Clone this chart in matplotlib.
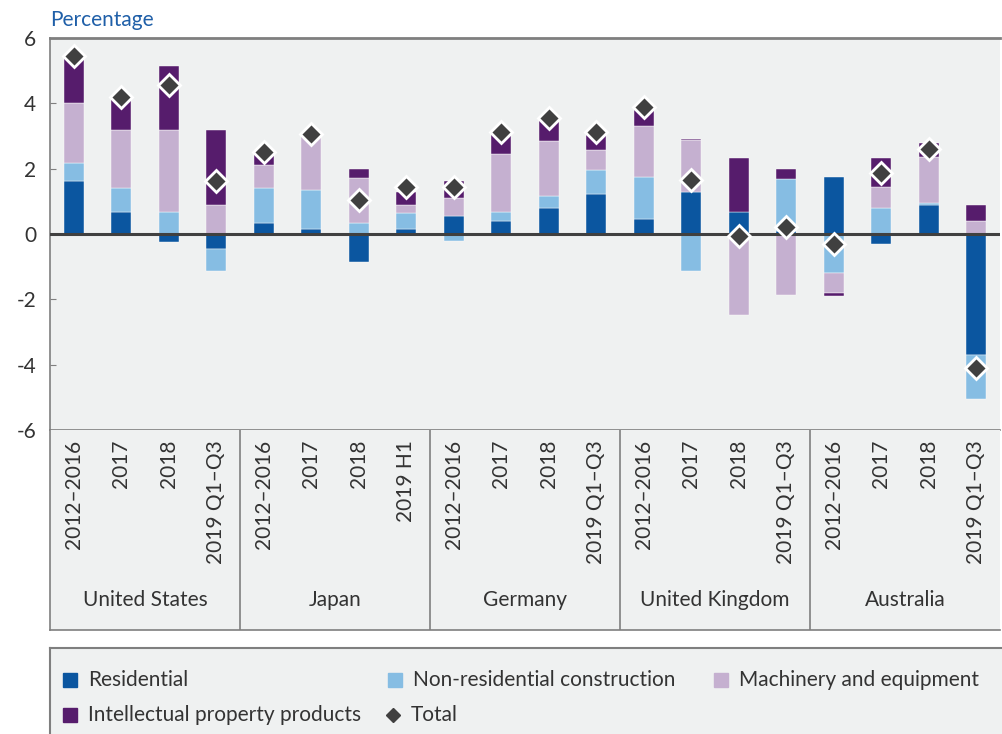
import numpy as np
import matplotlib
matplotlib.use("Agg")
import matplotlib.pyplot as plt

plt.rcParams['font.family'] = ['Lato', 'DejaVu Sans']
plt.rcParams['text.color'] = "#333333"
plt.rcParams['ytick.labelcolor'] = "#333333"

countries = ["United States", "Japan", "Germany", "United Kingdom", "Australia"]
periods = [
    ["2012–2016", "2017", "2018", "2019 Q1–Q3"],
    ["2012–2016", "2017", "2018", "2019 H1"],
    ["2012–2016", "2017", "2018", "2019 Q1–Q3"],
    ["2012–2016", "2017", "2018", "2019 Q1–Q3"],
    ["2012–2016", "2017", "2018", "2019 Q1–Q3"],
]

# contributions, percentage points (US, Japan, Germany, UK, Australia)
residential = [1.62, 0.67, -0.25, -0.46,
               0.35, 0.14, -0.87, 0.14,
               0.55, 0.41, 0.81, 1.22,
               0.47, 1.29, 0.68, 0.10,
               1.75, -0.32, 0.89, -3.70]
non_residential = [0.54, 0.75, 0.68, -0.66,
                   1.07, 1.21, 0.35, 0.49,
                   -0.20, 0.27, 0.34, 0.75,
                   1.28, -1.12, -0.10, 1.58,
                   -1.20, 0.81, 0.06, -1.35]
machinery = [1.84, 1.76, 2.50, 0.89,
             0.69, 1.65, 1.35, 0.27,
             0.54, 1.76, 1.70, 0.60,
             1.57, 1.58, -2.38, -1.88,
             -0.62, 0.62, 1.42, 0.41]
ipp = [1.43, 0.97, 1.96, 2.29,
       0.36, 0.00, 0.28, 0.40,
       0.54, 0.62, 0.64, 0.46,
       0.48, 0.05, 1.64, 0.30,
       -0.07, 0.89, 0.41, 0.48]
total = [5.45, 4.20, 4.56, 1.63,
         2.50, 3.06, 1.04, 1.45,
         1.45, 3.13, 3.54, 3.13,
         3.88, 1.65, -0.05, 0.22,
         -0.32, 1.86, 2.60, -4.09]

series = [
    ("Residential", residential, "#0b56a0"),
    ("Non-residential construction", non_residential, "#86bde3"),
    ("Machinery and equipment", machinery, "#c5b0d0"),
    ("Intellectual property products", ipp, "#561c6c"),
]

BG = "#eff1f1"
GRID = "#7f7f7f"
DARK = "#404040"
W, H = 1002, 734

fig = plt.figure(figsize=(W / 100, H / 100), dpi=100)
ax = fig.add_axes([50 / W, 1 - 430 / H, 950 / W, 392 / H])
ax2 = fig.add_axes([50 / W, 1 - 630 / H, 950 / W, 200 / H])
axl = fig.add_axes([50 / W, 0, 952 / W, 86 / H])

n = len(total)
x = np.arange(n)
pos_base = np.zeros(n)
neg_base = np.zeros(n)
for name, vals, col in series:
    v = np.array(vals)
    base = np.where(v >= 0, pos_base, neg_base)
    ax.bar(x, v, width=0.42, bottom=base, color=col, edgecolor="white",
           linewidth=0.3, zorder=2)
    pos_base += np.where(v >= 0, v, 0)
    neg_base += np.where(v < 0, v, 0)

ax.axhline(0, color=DARK, lw=2.2, zorder=3)
ax.plot(x, total, ls="none", marker="D", ms=11, mfc=DARK,
        mec="white", mew=2, zorder=4)

ax.set_facecolor(BG)
ax.set_xlim(-0.5, n - 0.5)
ax.set_ylim(-6, 6)
ax.set_yticks(range(-6, 7, 2))
ax.set_yticklabels(["-6", "-4", "-2", "0", "2", "4", "6"], fontsize=15)
ax.tick_params(axis="y", direction="in", length=4, color=GRID, pad=10)
ax.set_xticks([])
ax.spines["right"].set_visible(False)
for s in ["left", "top", "bottom"]:
    ax.spines[s].set_color(GRID)
    ax.spines[s].set_linewidth(1.2)
ax.spines["top"].set_linewidth(2)

fig.text(50 / W, 1 - 20 / H, "Percentage", color="#1f5fa8", fontsize=15,
         ha="left", va="center")

# category axis area
ax2.set_facecolor(BG)
ax2.set_xlim(-0.5, n - 0.5)
ax2.set_ylim(0, 1)
ax2.set_xticks([])
ax2.set_yticks([])
ax2.spines["right"].set_visible(False)
ax2.spines["top"].set_visible(False)
for s in ["left", "bottom"]:
    ax2.spines[s].set_color(GRID)
    ax2.spines[s].set_linewidth(1.2)
i = 0
for g, (country, labs) in enumerate(zip(countries, periods)):
    for lab in labs:
        ax2.text(i, 0.95, lab, rotation=90, ha="center", va="top", fontsize=15)
        i += 1
    ax2.text(g * 4 + 1.5, 0.15, country, ha="center", va="center", fontsize=15)
    if g > 0:
        ax2.axvline(g * 4 - 0.5, color=GRID, lw=1.2)

# legend box (pixel coordinates inside the box)
axl.set_facecolor(BG)
axl.set_xlim(0, 952)
axl.set_ylim(0, 86)
axl.set_xticks([])
axl.set_yticks([])
for s in ["right", "bottom"]:
    axl.spines[s].set_visible(False)
for s in ["left", "top"]:
    axl.spines[s].set_color(GRID)
    axl.spines[s].set_linewidth(1.5)
entries = [
    (series[0][0], "s", series[0][2], 20, 54),
    (series[1][0], "s", series[1][2], 345, 54),
    (series[2][0], "s", series[2][2], 671, 54),
    (series[3][0], "s", series[3][2], 20, 19),
    ("Total", "D", DARK, 343, 19),
]
for label, mk, col, lx, ly in entries:
    axl.plot([lx], [ly], ls="none", marker=mk, ms=9.5 if mk == "s" else 7,
             color=col, clip_on=False)
    axl.text(lx + 18, ly, label, fontsize=15, ha="left", va="center")

fig.savefig("out.png", dpi=100, facecolor="white")
